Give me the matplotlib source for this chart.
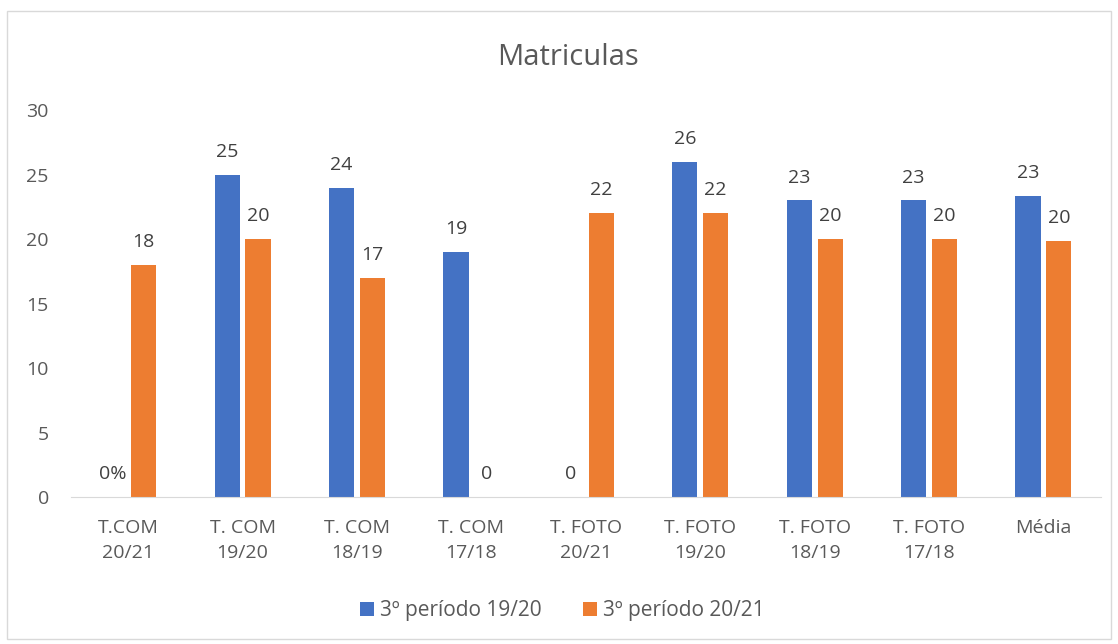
import matplotlib
matplotlib.use('Agg')
import matplotlib.pyplot as plt
from matplotlib.patches import Rectangle
import numpy as np

plt.rcParams['font.family'] = ['Open Sans', 'DejaVu Sans']

categories = ['T.COM\n20/21', 'T. COM\n19/20', 'T. COM\n18/19', 'T. COM\n17/18',
              'T. FOTO\n20/21', 'T. FOTO\n19/20', 'T. FOTO\n18/19', 'T. FOTO\n17/18',
              'Média']
periodo_1920 = [0, 25, 24, 19, 0, 26, 23, 23, 23.33]
periodo_2021 = [18, 20, 17, 0, 22, 22, 20, 20, 19.86]
labels_1920 = ['0%', '25', '24', '19', '0', '26', '23', '23', '23']
labels_2021 = ['18', '20', '17', '0', '22', '22', '20', '20', '20']

BLUE = '#4472C4'
ORANGE = '#ED7D31'
TEXT = '#595959'

fig = plt.figure(figsize=(11.18, 6.44), dpi=100)
ax = fig.add_axes([0.0635, 0.228, 0.921, 0.601])

# chart border
fig.patches.append(Rectangle((0.006, 0.008), 0.988, 0.975, transform=fig.transFigure,
                             fill=False, edgecolor='#D9D9D9', linewidth=1.0))

x = np.arange(len(categories))
w = 0.22
off = 0.135
b1 = ax.bar(x - off, periodo_1920, w, color=BLUE, label='3º período 19/20')
b2 = ax.bar(x + off, periodo_2021, w, color=ORANGE, label='3º período 20/21')

for bars, labels in ((b1, labels_1920), (b2, labels_2021)):
    for rect, lab in zip(bars, labels):
        ax.annotate(lab, (rect.get_x() + rect.get_width() / 2, rect.get_height()),
                    xytext=(0, 10), textcoords='offset points',
                    ha='center', va='bottom', fontsize=14, color='#404040')

ax.set_xlim(-0.5, len(categories) - 0.5)
ax.set_ylim(0, 30)
ax.set_yticks(range(0, 31, 5))
ax.set_xticks(x)
ax.set_xticklabels(categories, linespacing=1.5)
ax.tick_params(axis='both', length=0, labelsize=14, labelcolor=TEXT)
ax.tick_params(axis='x', pad=16)
ax.tick_params(axis='y', pad=16)
for s in ('top', 'right', 'left'):
    ax.spines[s].set_visible(False)
ax.spines['bottom'].set_color('#D9D9D9')

fig.text(0.508, 0.91, 'Matriculas', ha='center', va='center', fontsize=21, color=TEXT)

fig.legend(handles=[b1, b2], loc='center', bbox_to_anchor=(0.503, 0.052), ncol=2,
           frameon=False, fontsize=15, labelcolor=TEXT, handlelength=0.65,
           handleheight=0.65, handletextpad=0.3, columnspacing=2.0)

fig.savefig('out.png', dpi=100)
